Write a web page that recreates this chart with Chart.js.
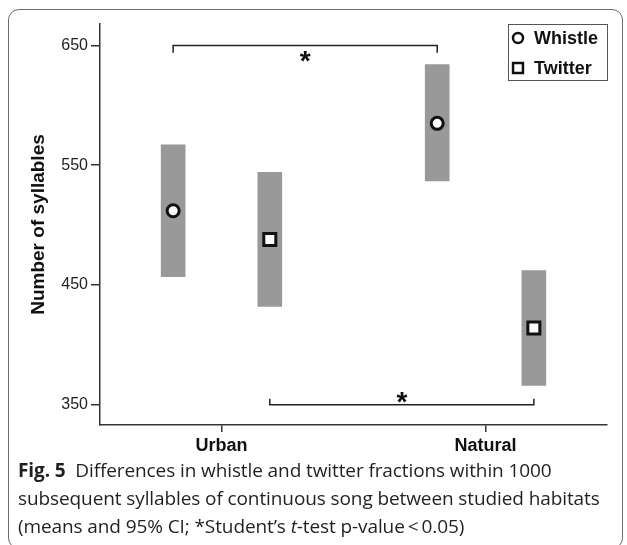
<!DOCTYPE html>
<html>
<head>
<meta charset="utf-8">
<script src="https://cdn.jsdelivr.net/npm/chart.js@4.4.1/dist/chart.umd.min.js"></script>
<style>
  html, body { margin: 0; padding: 0; background: #fff; }
  body { width: 627px; height: 545px; position: relative; overflow: hidden; }
  #frame {
    position: absolute; left: 8px; top: 9px; width: 615px; height: 540px;
    border: 1.5px solid #6a6a6a; border-radius: 11px; box-sizing: border-box;
  }
  #wrap { position: absolute; left: 0; top: 0; width: 627px; height: 462px; }
  #caption {
    position: absolute; left: 18px; top: 456px;
    font-family: "Open Sans", "Noto Sans", sans-serif; font-size: 19px;
    line-height: 28px; color: #231f20; white-space: nowrap; letter-spacing: -0.1px;
  }
</style>
</head>
<body>
<div id="frame"></div>
<div id="wrap"><canvas id="chart" width="627" height="462"></canvas></div>
<div id="caption">
  <div><b>Fig. 5</b>&nbsp; Differences in whistle and twitter fractions within 1000</div>
  <div>subsequent syllables of continuous song between studied habitats</div>
  <div>(means and 95% CI; *Student’s <i>t</i>-test p-value&thinsp;&lt;&thinsp;0.05)</div>
</div>
<script>
// Habitats on the x axis
const habitats = ["Urban", "Natural"];

// Means and 95% CI (number of syllables)
const whistleMean = [512, 585];
const whistleLow  = [457, 537];
const whistleHigh = [567, 634];

const twitterMean = [488, 414];
const twitterLow  = [432, 366];
const twitterHigh = [544, 462];

const yTicks = [350, 450, 550, 650];

// Significance brackets: which series is compared, and the level of the bracket
const sigSeries = ["Whistle", "Twitter"];
const sigLevel  = [650, 350];

const OFFSET = 0.183; // whistle left, twitter right of the habitat tick
const FONT = '"Liberation Sans", Arial, sans-serif';

const xOf = (series, i) => i + 1 + (series === "Whistle" ? -OFFSET : OFFSET);

const ciData = (series, lo, hi) => habitats.map((h, i) => ({ x: xOf(series, i), y: [lo[i], hi[i]] }));
const meanData = (series, m) => habitats.map((h, i) => ({ x: xOf(series, i), y: m[i] }));

// bracket legs point towards the data
const bracketData = k => {
  const x0 = xOf(sigSeries[k], 0), x1 = xOf(sigSeries[k], 1);
  const lvl = sigLevel[k], leg = lvl > 500 ? -6 : 5;
  return [{ x: x0, y: lvl + leg }, { x: x0, y: lvl }, { x: x1, y: lvl }, { x: x1, y: lvl + leg }];
};

const ciStyle = { type: "bar", backgroundColor: "#999999", barThickness: 24, grouped: false, order: 3 };
const meanStyle = { type: "scatter", backgroundColor: "#ffffff", borderColor: "#111111", borderWidth: 3, order: 1 };
const bracketStyle = { type: "line", borderColor: "#222222", borderWidth: 1.5, pointRadius: 0, fill: false, order: 2 };

// stars over the brackets and a boxed legend in the top-right corner
const overlay = {
  id: "overlay",
  afterDatasetsDraw(chart) {
    const { ctx, chartArea, scales: { x, y } } = chart;
    ctx.save();

    ctx.fillStyle = "#111";
    ctx.font = "bold 28px " + FONT;
    ctx.textAlign = "center";
    ctx.textBaseline = "alphabetic";
    sigSeries.forEach((s, k) => {
      const xm = x.getPixelForValue((xOf(s, 0) + xOf(s, 1)) / 2);
      const yl = y.getPixelForValue(sigLevel[k]);
      const dy = sigLevel[k] > 500 ? 24 : 6;
      ctx.fillText("*", xm, yl + dy);
    });

    // legend box
    const bx = chartArea.right - 99, by = chartArea.top, bw = 99, bh = 56;
    ctx.strokeStyle = "#555";
    ctx.lineWidth = 1;
    ctx.strokeRect(bx + 0.5, by + 0.5, bw, bh);
    const items = [
      { label: "Whistle", style: "circle", r: 5 },
      { label: "Twitter", style: "rect", r: 7 }
    ];
    ctx.font = "bold 18px " + FONT;
    ctx.textAlign = "left";
    ctx.textBaseline = "middle";
    items.forEach((it, k) => {
      const cy = by + 14 + k * 30;
      ctx.fillStyle = "#fff";
      ctx.strokeStyle = "#111";
      ctx.lineWidth = 2.5;
      Chart.helpers.drawPoint(ctx, { pointStyle: it.style, radius: it.r, borderWidth: 2.5, rotation: 0 }, bx + 10, cy);
      ctx.fillStyle = "#111";
      ctx.fillText(it.label, bx + 26, cy + 1);
    });

    ctx.restore();
  }
};

new Chart(document.getElementById("chart"), {
  type: "scatter",
  data: {
    datasets: [
      { ...ciStyle, label: "Whistle CI", data: ciData("Whistle", whistleLow, whistleHigh) },
      { ...ciStyle, label: "Twitter CI", data: ciData("Twitter", twitterLow, twitterHigh) },
      { ...meanStyle, label: "Whistle", pointStyle: "circle", pointRadius: 6, data: meanData("Whistle", whistleMean) },
      { ...meanStyle, label: "Twitter", pointStyle: "rect", pointRadius: 8.5, data: meanData("Twitter", twitterMean) },
      { ...bracketStyle, label: "sig whistle", data: bracketData(0) },
      { ...bracketStyle, label: "sig twitter", data: bracketData(1) }
    ]
  },
  options: {
    responsive: false,
    animation: false,
    layout: { padding: { top: 24, right: 20, left: 0, bottom: 0 } },
    plugins: { legend: { display: false }, tooltip: { enabled: false } },
    scales: {
      x: {
        type: "linear",
        min: 0.54,
        max: 2.46,
        offset: false,
        afterBuildTicks: s => { s.ticks = habitats.map((h, i) => ({ value: i + 1 })); },
        afterFit: s => { s.height = 37; },
        ticks: {
          callback: v => habitats[v - 1],
          font: { family: FONT, size: 18, weight: "bold" },
          color: "#111",
          padding: 3,
          autoSkip: false,
          maxRotation: 0
        },
        grid: { drawOnChartArea: false, drawTicks: true, tickLength: 7, color: "#333", lineWidth: 1.5, offset: false },
        border: { color: "#333", width: 1.5 }
      },
      y: {
        type: "linear",
        min: 333,
        max: 668,
        afterBuildTicks: s => { s.ticks = yTicks.map(v => ({ value: v })); },
        afterFit: s => { s.width = 100; },
        ticks: {
          font: { family: FONT, size: 16 },
          color: "#222",
          padding: 3
        },
        grid: { drawOnChartArea: false, drawTicks: true, tickLength: 9, color: "#333", lineWidth: 1.5 },
        border: { color: "#333", width: 1.5 },
        title: {
          display: true,
          text: "Number of syllables",
          font: { family: FONT, size: 19, weight: "bold" },
          color: "#111",
          padding: { top: 27, bottom: 0 }
        }
      }
    }
  },
  plugins: [overlay]
});
</script>
</body>
</html>
